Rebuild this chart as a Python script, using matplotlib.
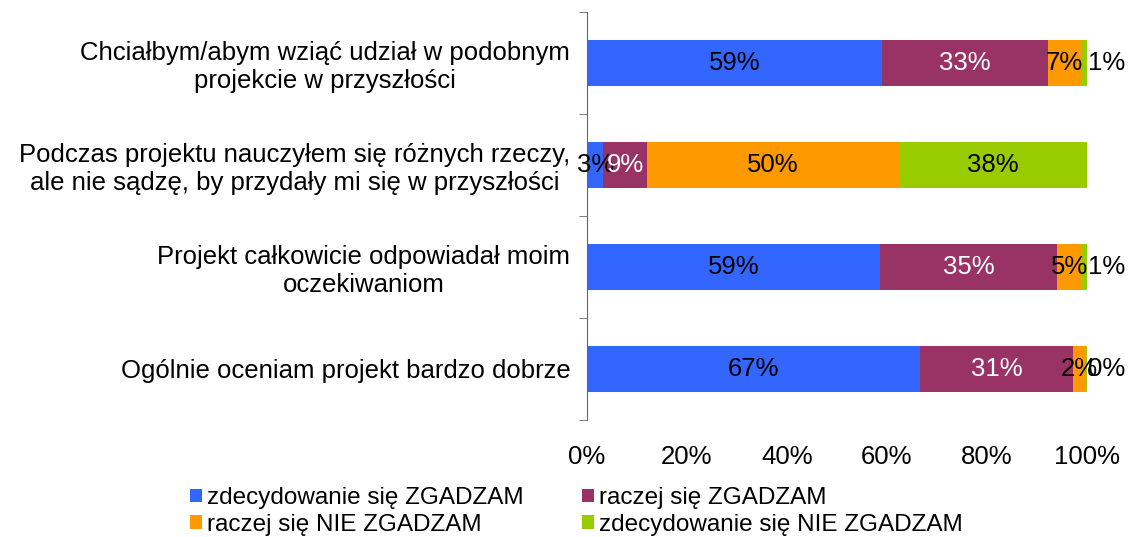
import matplotlib
matplotlib.use('Agg')
import matplotlib.pyplot as plt
from matplotlib.patches import Patch

plt.rcParams['font.family'] = ['Liberation Sans', 'DejaVu Sans']

# data (percent of answers)
categories = ['Chciałbym/abym wziąć udział w podobnym\nprojekcie w przyszłości',
              'Podczas projektu nauczyłem się różnych rzeczy,\nale nie sądzę, by przydały mi się w przyszłości',
              'Projekt całkowicie odpowiadał moim\noczekiwaniom',
              'Ogólnie oceniam projekt bardzo dobrze']
series_names = ['zdecydowanie się ZGADZAM', 'raczej się ZGADZAM',
                'raczej się NIE ZGADZAM', 'zdecydowanie się NIE ZGADZAM']
strongly_agree = [59.0, 3.3, 58.7, 66.6]
agree = [33.2, 8.8, 35.4, 30.7]
disagree = [6.6, 50.3, 5.0, 2.3]
strongly_disagree = [1.2, 37.6, 0.9, 0.4]
xticks = [0, 20, 40, 60, 80, 100]

colors = ['#3366FF', '#993366', '#FF9900', '#99CC00']
text_colors = ['black', 'white', 'black', 'black']
fs = 18.5

fig = plt.figure(figsize=(11.36, 5.37), dpi=100)
ax = fig.add_axes([0.5167, 0.2179, 0.4401, 0.7598])

ypos = list(range(len(categories)))
left = [0] * len(categories)
all_series = [strongly_agree, agree, disagree, strongly_disagree]
for k, vals in enumerate(all_series):
    ax.barh(ypos, vals, left=left, height=0.45, color=colors[k])
    for i, v in enumerate(vals):
        lab = '%d%%' % round(v)
        if k == 3 and v < 5:
            # small last segment: label sits just right of the bar
            ax.text(100.2, i, lab, ha='left', va='center', fontsize=fs, color='black')
        else:
            ax.text(left[i] + v / 2, i, lab, ha='center', va='center', fontsize=fs,
                    color=text_colors[k])
    left = [a + b for a, b in zip(left, vals)]

ax.set_xlim(0, 100)
ax.set_ylim(3.5, -0.5)
ax.set_xticks(xticks)
ax.set_xticklabels(['%d%%' % t for t in xticks], fontsize=fs)
ax.set_yticks(ypos)
ax.set_yticklabels(categories, fontsize=fs, ha='right', multialignment='center')
ax.set_yticks([-0.5, 0.5, 1.5, 2.5, 3.5], minor=True)
ax.tick_params(axis='y', which='major', length=0, pad=12)
ax.tick_params(axis='y', which='minor', length=6, direction='out', color='#666666')
ax.tick_params(axis='x', length=0, pad=18)

for s in ['top', 'right', 'bottom']:
    ax.spines[s].set_visible(False)
ax.spines['left'].set_color('#666666')

# legend is filled row by row in the reference
order = [0, 2, 1, 3]
handles = [Patch(facecolor=colors[i], edgecolor='none') for i in order]
labels = [series_names[i] for i in order]
fig.legend(handles, labels, loc='upper left', bbox_to_anchor=(0.167, 0.093),
           ncol=2, frameon=False, fontsize=17.5, handlelength=0.5, handleheight=0.5,
           handletextpad=0.2, columnspacing=2.4, labelspacing=0.2,
           borderpad=0, borderaxespad=0)

fig.savefig('out.png', dpi=100)
